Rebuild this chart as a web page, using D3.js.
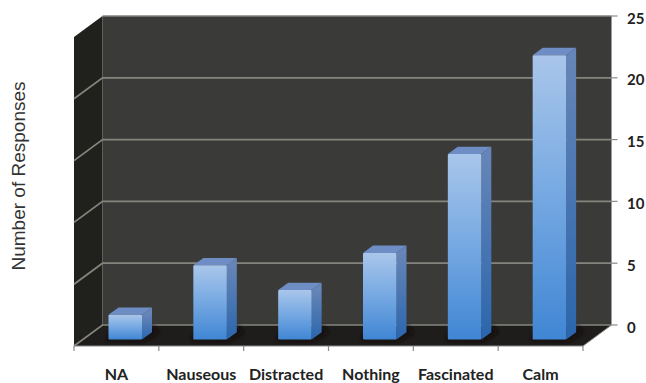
<!DOCTYPE html>
<html>
<head>
<meta charset="utf-8">
<script src="https://cdn.jsdelivr.net/npm/d3@7/dist/d3.min.js"></script>
<style>
  html, body { margin: 0; padding: 0; background: #fff; }
  svg { display: block; }
</style>
</head>
<body>
<svg id="chart" width="646" height="383"></svg>
<script>
const categories = ["NA", "Nauseous", "Distracted", "Nothing", "Fascinated", "Calm"];
const responses = [2, 6, 4, 7, 15, 23];
const tickValues = [0, 5, 10, 15, 20, 25];

const svg = d3.select("#chart");

// Projection of the 3D box: wall plane vs. front edge of the floor
const depthX = 28.5, depthY = -21;
const wall = { left: 102.5, right: 611.5, top: 16, bottom: 325 };
const front = { left: wall.left - depthX, right: wall.right - depthX, bottom: wall.bottom - depthY };

const y = d3.scaleLinear().domain([0, 25]).range([wall.bottom, wall.top]);
const x = d3.scaleBand().domain(categories).range([front.left, front.right]);

// Bars sit part of the way back from the front edge of the floor
const barDepthStart = 0.31, barDepthEnd = 0.66;
const barWidth = 33.5;
const shift = t => [depthX * t, depthY * t];
const valueY = v => y(v) - depthY;
const [startX, startY] = shift(barDepthStart);
const [endX, endY] = shift(barDepthEnd);

const pts = a => a.map(p => p.join(",")).join(" ");

const defs = svg.append("defs");

// Each bar gets its own vertical ramp so shorter bars still run light to saturated
categories.forEach((c, i) => {
  const top = valueY(responses[i]) + startY;
  const bottom = valueY(0) + startY;
  const f = defs.append("linearGradient").attr("id", "face" + i)
    .attr("gradientUnits", "userSpaceOnUse")
    .attr("x1", 0).attr("x2", 0).attr("y1", top).attr("y2", bottom);
  f.append("stop").attr("offset", 0).attr("stop-color", "#a9c6ea");
  f.append("stop").attr("offset", 0.5).attr("stop-color", "#75a8e2");
  f.append("stop").attr("offset", 1).attr("stop-color", "#4086d4");
  const s = defs.append("linearGradient").attr("id", "side" + i)
    .attr("gradientUnits", "userSpaceOnUse")
    .attr("x1", 0).attr("x2", 0).attr("y1", top).attr("y2", bottom);
  s.append("stop").attr("offset", 0).attr("stop-color", "#6685b8");
  s.append("stop").attr("offset", 1).attr("stop-color", "#2a66ad");
});

const blur = defs.append("filter").attr("id", "soft")
  .attr("x", "-30%").attr("y", "-30%").attr("width", "160%").attr("height", "160%");
blur.append("feGaussianBlur").attr("stdDeviation", 2);

// Back wall, side wall and floor
svg.append("polygon")
  .attr("points", pts([[wall.left, wall.top], [wall.right, wall.top], [wall.right, wall.bottom], [wall.left, wall.bottom]]))
  .attr("fill", "#3a3a38");
svg.append("polygon")
  .attr("points", pts([[front.left, wall.top - depthY], [wall.left, wall.top], [wall.left, wall.bottom], [front.left, front.bottom]]))
  .attr("fill", "#20211d");
svg.append("polygon")
  .attr("points", pts([[front.left, front.bottom], [wall.left, wall.bottom], [wall.right, wall.bottom], [front.right, front.bottom]]))
  .attr("fill", "#1e1d1b");

// Gridlines run across the back wall and down the side wall
const grid = svg.append("g").attr("stroke", "#85857e").attr("stroke-width", 1.7).attr("fill", "none");
tickValues.forEach(v => {
  const onSide = v === 25 ? [] : [[front.left, y(v) - depthY]];
  grid.append("polyline")
    .attr("points", pts([...onSide, [wall.left, y(v)], [wall.right, y(v)]]));
});
grid.append("line")
  .attr("x1", wall.right).attr("x2", front.right)
  .attr("y1", wall.bottom).attr("y2", front.bottom)
  .attr("stroke-width", 1);

// Value ticks beyond the right edge of the wall
svg.append("g").attr("stroke", "#8a8a8a").attr("stroke-width", 1.2)
  .selectAll("line").data(tickValues).join("line")
  .attr("x1", wall.right).attr("x2", wall.right + 6)
  .attr("y1", y).attr("y2", y);

// Front edge of the floor with category ticks
const frontAxis = svg.append("g").attr("stroke", "#8a8a8a").attr("stroke-width", 1.2);
frontAxis.append("line")
  .attr("x1", front.left).attr("x2", front.right)
  .attr("y1", front.bottom).attr("y2", front.bottom);
categories.concat(null).forEach((c, i) => {
  const px = front.left + i * x.bandwidth();
  frontAxis.append("line")
    .attr("x1", px).attr("x2", px)
    .attr("y1", front.bottom).attr("y2", front.bottom + 5);
});

const barX = c => x(c) + x.bandwidth() / 2 - barWidth / 2 + startX;
const barTop = i => valueY(responses[i]) + startY;
const barBase = valueY(0) + startY;
const dx = endX - startX, dy = endY - startY;

// Floor shadows
svg.append("g").selectAll("polygon").data(categories).join("polygon")
  .attr("points", c => {
    const bx = barX(c);
    return pts([[bx - 2, barBase + 1], [bx + barWidth + 2, barBase + 2], [bx + barWidth + 17, barBase - 7], [bx + barWidth + 11, barBase - 14], [bx, barBase - 4]]);
  })
  .attr("fill", "#120b0a")
  .attr("filter", "url(#soft)");

// Bars: side face, top face, front face
const bars = svg.append("g").selectAll("g").data(categories).join("g");

bars.append("polygon")
  .attr("points", (c, i) => {
    const r = barX(c) + barWidth;
    return pts([[r, barTop(i)], [r + dx, barTop(i) + dy], [r + dx, barBase + dy], [r, barBase]]);
  })
  .attr("fill", (c, i) => `url(#side${i})`);
bars.append("polygon")
  .attr("points", (c, i) => {
    const l = barX(c), r = l + barWidth, t = barTop(i);
    return pts([[l, t], [r, t], [r + dx, t + dy], [l + dx, t + dy]]);
  })
  .attr("fill", "#6d8dc4");
bars.append("rect")
  .attr("x", barX)
  .attr("y", (c, i) => barTop(i))
  .attr("width", barWidth)
  .attr("height", (c, i) => barBase - barTop(i))
  .attr("rx", 1)
  .attr("fill", (c, i) => `url(#face${i})`);

// Category labels
svg.append("g").selectAll("text").data(categories).join("text")
  .attr("x", c => x(c) + x.bandwidth() / 2)
  .attr("y", 380)
  .attr("text-anchor", "middle")
  .attr("font-family", "Lato, sans-serif")
  .attr("font-weight", 700)
  .attr("font-size", 16)
  .attr("fill", "#222")
  .text(c => c);

// Value labels at the right of the wall
svg.append("g").selectAll("text").data(tickValues).join("text")
  .attr("x", 627)
  .attr("y", v => y(v) + 7.5)
  .attr("font-family", "Lato, sans-serif")
  .attr("font-weight", 700)
  .attr("font-size", 15)
  .attr("fill", "#222")
  .text(v => v);

// Rotated axis title
svg.append("text")
  .attr("transform", "translate(25,176) rotate(-90)")
  .attr("text-anchor", "middle")
  .attr("font-family", "'Liberation Sans', Arial, sans-serif")
  .attr("font-size", 19)
  .attr("fill", "#333")
  .text("Number of Responses");
</script>
</body>
</html>
